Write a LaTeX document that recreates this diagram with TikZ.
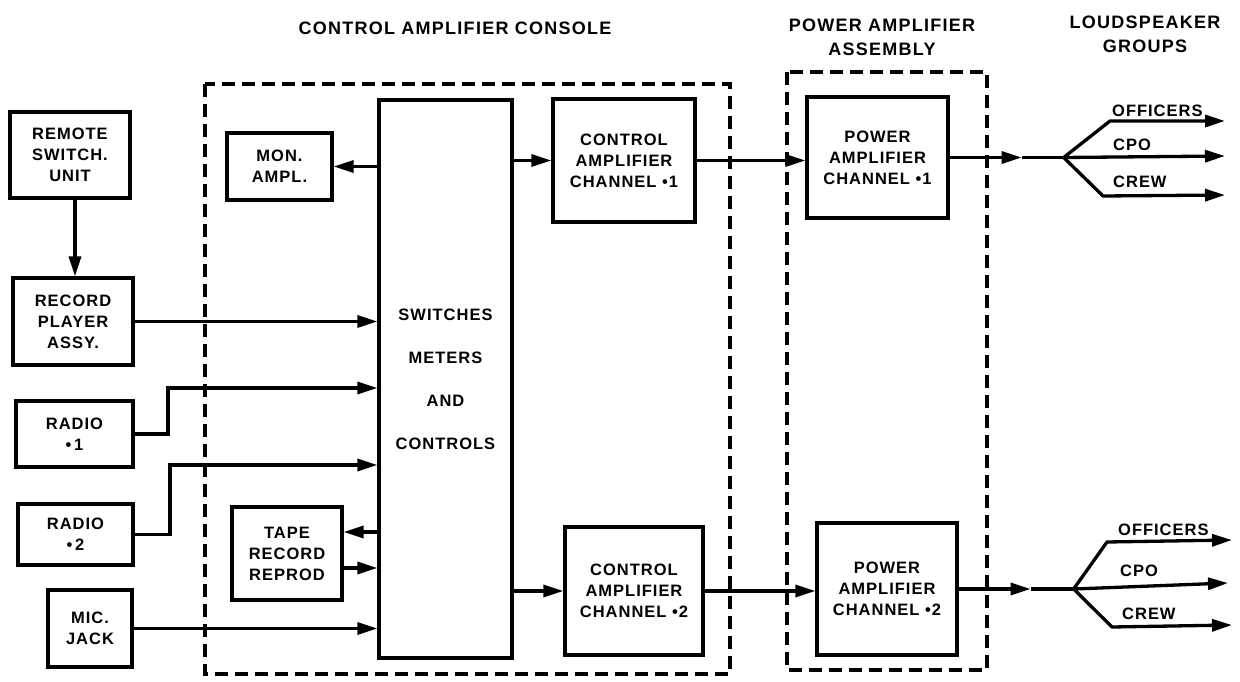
\documentclass[tikz,border=0pt]{standalone}
\usepackage{fontspec}
\setmainfont{Liberation Sans}[LetterSpace=6]
\usetikzlibrary{arrows.meta,calc}
\newcommand\bxfont{\fontsize{16.5}{21}\selectfont\bfseries}
\newcommand\ttlfont{\fontsize{18}{24}\selectfont\bfseries\addfontfeature{LetterSpace=7}}
\begin{document}
\begin{tikzpicture}[x=1pt,y=-1pt,
  box/.style={draw,line width=3.3pt,align=center,inner sep=0pt,font=\bxfont},
  wire/.style={line width=3.3pt},
  arr/.style={wire,-{Triangle[length=20pt,width=12pt]}},
  dbox/.style={line width=3.3pt,dash pattern=on 13pt off 7pt},
  ttl/.style={font=\ttlfont,align=center,inner sep=0pt},
  spk/.style={font=\bxfont,inner sep=0pt,anchor=south west}]
\useasboundingbox (0,0) rectangle (1240,682);
% dashed assemblies
\draw[dbox] (205,84) rectangle (730,674);
\draw[dbox] (787,72) rectangle (987,670);
% titles
\node[ttl] (t1) at (455,28) {CONTROL AMPLIFIER CONSOLE};
\node[ttl] (t2) at (882,37) {POWER AMPLIFIER\\ASSEMBLY};
\node[ttl] (t3) at (1145,34) {LOUDSPEAKER\\GROUPS};
% boxes
\node[box,minimum width=120pt,minimum height=86pt] (rem) at (70,155) {REMOTE\\SWITCH.\\UNIT};
\node[box,minimum width=120pt,minimum height=87pt] (rec) at (73,321.5) {RECORD\\PLAYER\\ASSY.};
\node[box,minimum width=117pt,minimum height=66pt] (r1) at (74.5,434) {RADIO\\•\,1};
\node[box,minimum width=115pt,minimum height=61pt] (r2) at (75.5,534.5) {RADIO\\•\,2};
\node[box,minimum width=84pt,minimum height=77pt] (mic) at (90,628.5) {MIC.\\JACK};
\node[box,minimum width=105pt,minimum height=67pt] (mon) at (279.5,166.5) {MON.\\AMPL.};
\node[box,minimum width=110pt,minimum height=93pt] (tape) at (287,553.5) {TAPE\\RECORD\\REPROD};
\node[box,minimum width=133pt,minimum height=558pt] (sw) at (445.5,379) {SWITCHES\\[22pt]METERS\\[22pt]AND\\[22pt]CONTROLS};
\node[box,minimum width=142pt,minimum height=123pt] (cac1) at (624,160.5) {CONTROL\\AMPLIFIER\\CHANNEL •1};
\node[box,minimum width=138pt,minimum height=128pt] (cac2) at (634,591) {CONTROL\\AMPLIFIER\\CHANNEL •2};
\node[box,minimum width=141pt,minimum height=121pt] (pa1) at (877.5,157.5) {POWER\\AMPLIFIER\\CHANNEL •1};
\node[box,minimum width=140pt,minimum height=132pt] (pa2) at (887,589) {POWER\\AMPLIFIER\\CHANNEL •2};
% helper coordinates
\coordinate (j1) at (168,388);
\coordinate (j2) at (170,465);
\coordinate (ta) at (0,532);
\coordinate (tb) at (0,568);
% inputs
\draw[arr] ([xshift=5pt]rem.south) -- ([xshift=5pt]rem.south |- rec.north);
\draw[arr] (rec.east) -- (rec.east -| sw.west);
\draw[arr] (r1.east) -- (r1.east -| j1) |- (sw.west |- j1);
\draw[arr] (r2.east) -- (r2.east -| j2) |- (sw.west |- j2);
\draw[arr] (mic.east) -- (mic.east -| sw.west);
\draw[arr] (sw.west |- mon.east) -- (mon.east);
\draw[arr] (sw.west |- ta) -- (tape.east |- ta);
\draw[arr] (tape.east |- tb) -- (sw.west |- tb);
\draw[arr] (sw.east |- cac1.west) -- (cac1.west);
\draw[arr] (sw.east |- cac2.west) -- (cac2.west);
\draw[arr] (cac1.east) -- (cac1.east -| pa1.west);
\draw[arr] (cac2.east) -- (cac2.east -| pa2.west);
% loudspeaker fan 1
\coordinate (m1) at ($(pa1.east)+(72,0)$);
\coordinate (f1) at ($(pa1.east)+(114,0)$);
\coordinate (o1) at (1225,121);
\coordinate (c1) at (1225,156);
\coordinate (w1) at (1225,195);
\draw[arr] (pa1.east) -- (m1);
\draw[wire] (m1) -- (f1);
\draw[arr,line join=round] (f1) -- (1110,121) -- (o1);
\draw[arr] (f1) -- (c1);
\draw[arr,line join=round] (f1) -- (1103,196) -- (w1);
\node[spk] (lo1) at (1112,117) {OFFICERS};
\node[spk] (lc1) at (1113,151) {CPO};
\node[spk] (lw1) at (1113,188) {CREW};
% loudspeaker fan 2
\coordinate (m2) at ($(pa2.east)+(72,0)$);
\coordinate (f2) at ($(pa2.east)+(115,0)$);
\coordinate (o2) at (1232,540);
\coordinate (c2) at (1228,583);
\coordinate (w2) at (1232,625);
\draw[arr] (pa2.east) -- (m2);
\draw[wire] (m2) -- (f2);
\draw[arr,line join=round] (f2) -- (1107,542) -- (o2);
\draw[arr] (f2) -- (c2);
\draw[arr,line join=round] (f2) -- (1112,627) -- (w2);
\node[spk] (lo2) at (1118,536) {OFFICERS};
\node[spk] (lc2) at (1120,577) {CPO};
\node[spk] (lw2) at (1122,620) {CREW};
\end{tikzpicture}
\end{document}
